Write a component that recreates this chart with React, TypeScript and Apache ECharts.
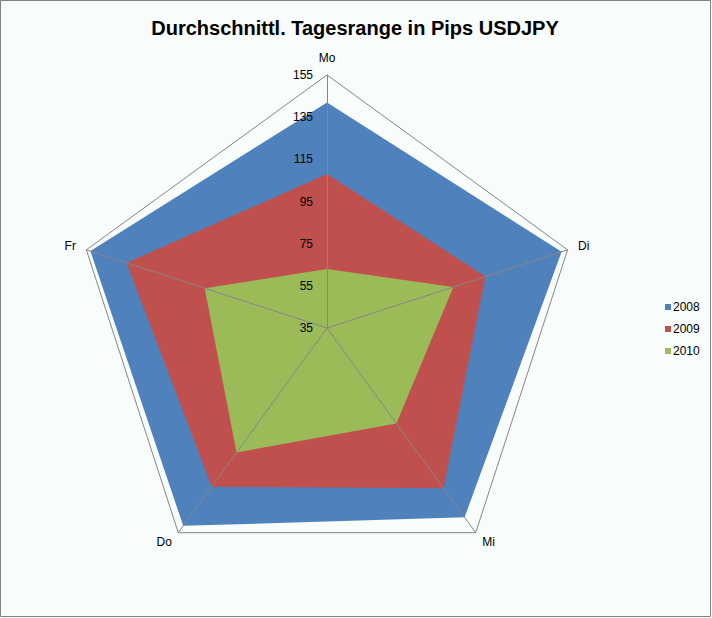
import React, { useEffect, useRef } from "react";
import * as echarts from "echarts";

const TITLE = "Durchschnittl. Tagesrange in Pips USDJPY";
const DAYS = ["Mo", "Di", "Mi", "Do", "Fr"];
const YEARS = ["2008", "2009", "2010"];
const V2008 = [142, 152, 146, 151, 153];
const V2009 = [108, 114, 129, 128, 135];
const V2010 = [63, 98, 91, 108, 96];
const AXIS_MIN = 35;
const AXIS_MAX = 155;
const AXIS_STEP = 20;
const COLORS = ["#4F81BD", "#C0504D", "#9BBB59"];

// ECharts places radar indicators counter-clockwise; reorder so days run clockwise.
const ORDER = [0, 4, 3, 2, 1];

export default function App() {
  const ref = useRef<HTMLDivElement>(null);
  useEffect(() => {
    document.body.style.margin = "0";
    const chart = echarts.init(ref.current!, null, { renderer: "svg" });
    const values = [V2008, V2009, V2010];
    const splitNumber = (AXIS_MAX - AXIS_MIN) / AXIS_STEP;
    const ringColors: string[] = [];
    for (let i = 0; i <= splitNumber; i++) ringColors.push(i === splitNumber ? "#868686" : "rgba(0,0,0,0)");
    chart.setOption({
      animation: false,
      backgroundColor: "#F8FCFA",
      title: {
        text: TITLE,
        left: 350,
        top: 13,
        textAlign: "center",
        textStyle: { fontFamily: "Liberation Sans", fontWeight: "bold", fontSize: 20, color: "#000" },
      },
      legend: {
        orient: "vertical",
        left: 660,
        top: 296,
        icon: "rect",
        itemWidth: 6,
        itemHeight: 6,
        itemGap: 10,
        data: YEARS,
        textStyle: { fontFamily: "Liberation Sans", fontSize: 12, color: "#000", padding: [0, 0, 0, -3] },
      },
      radar: {
        z: 10,
        center: [327, 328],
        radius: 253,
        startAngle: 90,
        splitNumber,
        shape: "polygon",
        nameGap: 11,
        axisName: { color: "#000", fontFamily: "Liberation Sans", fontSize: 12 },
        axisLine: { lineStyle: { color: "#868686", width: 1 } },
        splitLine: { show: true, lineStyle: { color: ringColors, width: 1 } },
        splitArea: { show: false },
        indicator: ORDER.map((di, i) => ({
          name: DAYS[di],
          min: AXIS_MIN,
          max: AXIS_MAX,
          axisLabel:
            i === 0
              ? { show: true, color: "#000", fontFamily: "Liberation Sans", fontSize: 12, margin: 14 }
              : { show: false },
        })),
      },
      series: YEARS.map((y, k) => ({
        type: "radar",
        name: y,
        z: 2 + k,
        symbol: "none",
        lineStyle: { width: 0 },
        itemStyle: { color: COLORS[k] },
        areaStyle: { color: COLORS[k], opacity: 1 },
        data: [{ name: y, value: ORDER.map((di) => values[k][di]) }],
      })),
      graphic: [
        {
          type: "rect",
          shape: { x: 0.5, y: 0.5, width: 710, height: 616 },
          style: { fill: "none", stroke: "#808080", lineWidth: 1 },
          silent: true,
        },
      ],
    });
    return () => chart.dispose();
  }, []);
  return <div ref={ref} style={{ position: "fixed", left: 0, top: 0, width: 712, height: 618 }} />;
}
